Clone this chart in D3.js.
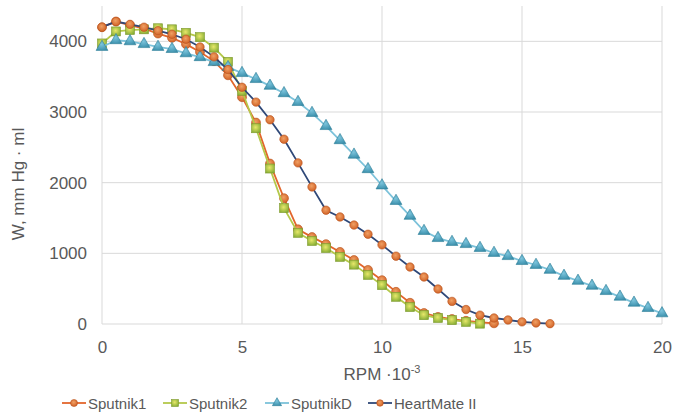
<!DOCTYPE html>
<html>
<head>
<meta charset="utf-8">
<script src="https://cdn.jsdelivr.net/npm/d3@7"></script>
<style>
  html, body { margin: 0; padding: 0; background: #fff; }
  svg { display: block; font-family: "Liberation Sans", Arial, sans-serif; }
</style>
</head>
<body>
<svg id="chart" width="674" height="416"></svg>
<script>
// Pump work vs. rotor speed for four devices (RPM in thousands)
const sputnik1X = d3.range(0, 14.01, 0.5);
const sputnik1W = [4200, 4280, 4230, 4180, 4110, 4050, 3960, 3850, 3720, 3520,
  3210, 2850, 2270, 1780, 1340, 1230, 1130, 1020, 905, 765,
  620, 455, 300, 155, 100, 70, 45, 25, 10];

const sputnik2X = d3.range(0, 13.51, 0.5);
const sputnik2W = [3970, 4140, 4160, 4170, 4185, 4170, 4120, 4060, 3910, 3710,
  3300, 2770, 2200, 1640, 1290, 1175, 1075, 950, 840, 695,
  550, 385, 240, 125, 85, 55, 30, 5];

const sputnikDX = d3.range(0, 20.01, 0.5);
const sputnikDW = [3920, 4015, 4000, 3960, 3920, 3890, 3830, 3775, 3705, 3635,
  3550, 3465, 3370, 3265, 3140, 2985, 2800, 2600, 2395, 2190,
  1960, 1740, 1530, 1315, 1215, 1160, 1130, 1075, 1005, 960,
  890, 835, 765, 680, 610, 540, 465, 385, 300, 225, 150];

const heartMateX = d3.range(0, 16.01, 0.5);
const heartMateW = [4200, 4280, 4240, 4200, 4150, 4100, 4030, 3920, 3780, 3600,
  3350, 3140, 2890, 2615, 2280, 1940, 1610, 1515, 1400, 1270,
  1120, 960, 806, 665, 495, 320, 205, 125, 85, 57,
  30, 15, 5];

const xTicks = [0, 5, 10, 15, 20];
const yTicks = [0, 1000, 2000, 3000, 4000];

const seriesNames = ["Sputnik1", "Sputnik2", "SputnikD", "HeartMate II"];

const series = [
  { name: seriesNames[0], xs: sputnik1X, ys: sputnik1W, line: "#e2662c", marker: "circle", fill: "url(#gOrange)", stroke: "#b9521d" },
  { name: seriesNames[1], xs: sputnik2X, ys: sputnik2W, line: "#b4c84a", marker: "square", fill: "url(#gGreen)", stroke: "#7f9a2e" },
  { name: seriesNames[2], xs: sputnikDX, ys: sputnikDW, line: "#7cc2da", marker: "triangle", fill: "url(#gBlue)", stroke: "#2f8099" },
  { name: seriesNames[3], xs: heartMateX, ys: heartMateW, line: "#2f4878", marker: "diamond", fill: "url(#gOrange)", stroke: "#b9521d" }
];

const svg = d3.select("#chart");
const defs = svg.append("defs");

function radial(id, inner, outer) {
  const g = defs.append("radialGradient").attr("id", id)
    .attr("cx", "45%").attr("cy", "40%").attr("r", "65%");
  g.append("stop").attr("offset", "0%").attr("stop-color", inner);
  g.append("stop").attr("offset", "100%").attr("stop-color", outer);
}
radial("gOrange", "#f0a064", "#cf5e22");
radial("gGreen", "#e8e86a", "#86ad34");
radial("gBlue", "#7cc4dc", "#3a8fab");

const x = d3.scaleLinear().domain([0, 20]).range([102, 662]);
const y = d3.scaleLinear().domain([0, 4500]).range([324, 6]);

const textColor = "#595959";
const gridColor = "#d9d9d9";

// gridlines
const grid = svg.append("g");
grid.selectAll("line.h").data(yTicks).join("line")
  .attr("x1", x(0)).attr("x2", x(20))
  .attr("y1", d => y(d)).attr("y2", d => y(d))
  .attr("stroke", gridColor).attr("stroke-width", 1);
grid.selectAll("line.v").data(xTicks).join("line")
  .attr("x1", d => x(d)).attr("x2", d => x(d))
  .attr("y1", y(4500)).attr("y2", y(0))
  .attr("stroke", gridColor).attr("stroke-width", 1);

// axes (labels only)
const xAxis = d3.axisBottom(x).tickValues(xTicks).tickSize(0).tickPadding(17);
const gx = svg.append("g").attr("transform", `translate(0,${y(0)})`).call(xAxis);
gx.select(".domain").remove();
gx.selectAll("text").attr("fill", textColor).style("font-size", "17px");

const yAxis = d3.axisLeft(y).tickValues(yTicks).tickFormat(d3.format("d")).tickSize(0).tickPadding(15);
const gy = svg.append("g").attr("transform", `translate(${x(0)},0)`).call(yAxis);
gy.select(".domain").remove();
gy.selectAll("text").attr("fill", textColor).style("font-size", "17px");

// axis titles
const xt = svg.append("text")
  .attr("x", (x(0) + x(20)) / 2).attr("y", 380)
  .attr("text-anchor", "middle").attr("fill", textColor).style("font-size", "17px");
xt.append("tspan").text("RPM ·10");
xt.append("tspan").attr("dy", -7).style("font-size", "11px").text("-3");

svg.append("text")
  .attr("transform", "translate(24,184) rotate(-90)")
  .attr("text-anchor", "middle").attr("fill", textColor).style("font-size", "17px")
  .text("W, mm Hg · ml");

// marker drawing
function drawMarker(sel, type, fill, stroke, size) {
  if (type === "circle") {
    sel.append("circle").attr("r", size * 0.5).attr("fill", fill).attr("stroke", stroke).attr("stroke-width", 0.6);
  } else if (type === "square") {
    const s = size;
    sel.append("rect").attr("x", -s / 2).attr("y", -s / 2).attr("width", s).attr("height", s)
      .attr("fill", fill).attr("stroke", stroke).attr("stroke-width", 0.6);
  } else if (type === "triangle") {
    sel.append("path").attr("d", d3.symbol(d3.symbolTriangle, size * size * 0.75)())
      .attr("fill", fill).attr("stroke", stroke).attr("stroke-width", 0.6);
  } else if (type === "diamond") {
    sel.append("circle").attr("r", size * 0.47).attr("fill", fill).attr("stroke", stroke).attr("stroke-width", 0.6);
  }
}

const line = d3.line().x(d => x(d[0])).y(d => y(d[1]));

series.forEach(s => {
  const pts = s.xs.map((v, i) => [v, s.ys[i]]);
  const g = svg.append("g");
  g.append("path").datum(pts).attr("d", line)
    .attr("fill", "none").attr("stroke", s.line).attr("stroke-width", 1.8);
  g.selectAll("g.m").data(pts).join("g")
    .attr("transform", d => `translate(${x(d[0])},${y(d[1])})`)
    .each(function () { drawMarker(d3.select(this), s.marker, s.fill, s.stroke, 9); });
});

// legend
const legendX = [62, 163, 265, 368];
const lg = svg.append("g").attr("transform", "translate(0,403)");
series.forEach((s, i) => {
  const item = lg.append("g").attr("transform", `translate(${legendX[i]},0)`);
  item.append("line").attr("x1", 0).attr("x2", 24).attr("y1", 0).attr("y2", 0)
    .attr("stroke", s.line).attr("stroke-width", 1.8);
  const m = item.append("g").attr("transform", "translate(12,0)");
  drawMarker(m, s.marker, s.fill, s.stroke, 7);
  item.append("text").attr("x", 26).attr("y", 5.5)
    .attr("fill", textColor).style("font-size", "15px").text(s.name);
});
</script>
</body>
</html>
